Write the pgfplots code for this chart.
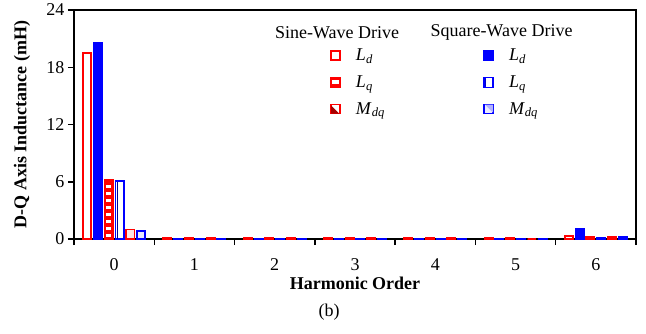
\documentclass[border=0pt]{standalone}
\usepackage{pgfplots}
\pgfplotsset{compat=1.18}
\usepackage{pgfplotstable}
\usepackage{fontspec}
\setmainfont{Liberation Serif}

% harmonic order, sine-wave drive (s) and square-wave drive (q) inductances in mH
\pgfplotstableread{
h  sLd   qLd   sLq   qLq   sMdq  qMdq
0  19.5  20.6  6.2   6.1   1.0   0.87
1  0.10  0.06  0.10  0.06  0.08  0.06
2  0.10  0.06  0.10  0.06  0.08  0.06
3  0.10  0.06  0.10  0.06  0.08  0.06
4  0.10  0.06  0.10  0.06  0.08  0.06
5  0.10  0.06  0.08  0.06  0.00  0.06
6  0.35  1.05  0.18  0.12  0.18  0.20
}\tbl

\tikzset{
  sLdstyle/.style={draw=red, line width=1.8pt, fill=white},
  qLdstyle/.style={draw=blue, line width=1.8pt, fill=blue},
  sLqstyle/.style={draw=red, line width=1.8pt, fill=red},
  qLqstyle/.style={draw=blue, line width=1.8pt, fill=white},
  sMdqstyle/.style={draw=red, line width=1.8pt, fill=red!10},
  qMdqstyle/.style={draw=blue, line width=1.8pt, fill=blue!8},
}

\pgfplotsset{
  commonaxis/.style={
    at={(0,0)}, anchor=south west,
    scale only axis, width=562pt, height=229pt,
    xmin=-0.5, xmax=6.5, ymin=0, ymax=24,
    ybar, bar width=8.2pt,
    clip=false,
    legend cell align=left,
    legend image code/.code={\draw[##1] (0pt,-4.5pt) rectangle (9pt,4.5pt);},
    legend style={draw=none, fill=none, inner sep=0pt, anchor=north west,
      font=\fontsize{18}{21}\selectfont,
      nodes={inner sep=2pt}, row sep=9.5pt, column sep=13pt},
  },
  % stripes laid over the main-harmonic bars
  stripe/.style={ycomb, forget plot, mark=none, restrict x to domain=-0.1:0.1},
}

\newcommand{\Lsub}[2]{\textit{#1}\textsubscript{\textit{#2}}}

\begin{document}
\begin{tikzpicture}[font=\fontsize{18}{21}\selectfont]
\path[use as bounding box] (-74pt,-94pt) rectangle (572pt,239pt);

% sine-wave drive bars, axis frame and labels
\begin{axis}[
  commonaxis,
  ytick={0,6,...,24},
  xtick={0,...,6},
  minor xtick={-0.5,0.5,...,6.5},
  major x tick style={draw=none},
  tick align=outside, xtick pos=bottom, ytick pos=left,
  major tick length=6pt, minor tick length=6pt,
  every tick/.append style={black, line width=1.5pt},
  axis line style={line width=1.5pt},
  /pgf/number format/assume math mode=true,
  tick label style={font=\fontsize{18}{21}\selectfont},
  xticklabel style={yshift=-10pt},
  xlabel={\bfseries Harmonic Order},
  ylabel={\bfseries D-Q Axis Inductance (mH)},
  every axis y label/.style={at={(axis description cs:0,0.5)}, xshift=-52pt,
    rotate=90, anchor=center},
  every axis x label/.style={at={(axis description cs:0.5,0)}, yshift=-44pt,
    anchor=center},
  legend style={at={(0.4555,0.84)}},
]
\addplot[sLdstyle, bar shift=-27pt] table[x=h, y=sLd] {\tbl};
\addlegendentry{\Lsub{L}{d}}
\addplot[sLqstyle, bar shift=-5.4pt,
  legend image code/.code={
    \draw[red, fill=red, line width=1.8pt] (0pt,-4.5pt) rectangle (9pt,4.5pt);
    \fill[white] (2pt,-1.2pt) rectangle (7pt,1.2pt);}]
  table[x=h, y=sLq] {\tbl};
\addlegendentry{\Lsub{L}{q}}
\addplot[sMdqstyle, bar shift=16.2pt,
  legend image code/.code={
    \draw[red, fill=white, line width=1.8pt] (0pt,-4.5pt) rectangle (9pt,4.5pt);
    \fill[red!65!black] (1pt,-3.6pt) -- (6pt,-3.6pt) -- (1pt,1.4pt) -- cycle;}]
  table[x=h, y=sMdq] {\tbl};
\addlegendentry{\Lsub{M}{dq}}

% white dashes inside the sine-wave L_q bar
\addplot[stripe, white, line width=4.6pt, dash pattern=on 3pt off 4pt,
  dash phase=5pt, xshift=-5.4pt, shorten >=2pt] table[x=h, y=sLq] {\tbl};

\node[anchor=center] at (rel axis cs:0.468,0.90) {Sine-Wave Drive};
\node[anchor=center] at (rel axis cs:0.7607,0.90) {Square-Wave Drive};
\node[anchor=center] at (rel axis cs:0.454,-0.32) {(b)};
\end{axis}

% square-wave drive bars
\begin{axis}[
  commonaxis,
  hide axis,
  legend style={at={(0.7278,0.84)}},
]
\addplot[qLdstyle, bar shift=-16.2pt] table[x=h, y=qLd] {\tbl};
\addlegendentry{\Lsub{L}{d}}
\addplot[qLqstyle, bar shift=5.4pt,
  legend image code/.code={
    \draw[blue, fill=blue!80!black, line width=1.8pt] (0pt,-4.5pt) rectangle (9pt,4.5pt);
    \fill[white] (2.3pt,-3.6pt) rectangle (3.8pt,3.6pt);
    \fill[white] (5.4pt,-3.6pt) rectangle (6.9pt,3.6pt);}]
  table[x=h, y=qLq] {\tbl};
\addlegendentry{\Lsub{L}{q}}
\addplot[qMdqstyle, bar shift=27pt,
  legend image code/.code={
    \draw[blue, fill=blue!8, line width=1.8pt] (0pt,-4.5pt) rectangle (9pt,4.5pt);
    \fill[blue!30] (8pt,3.6pt) -- (3pt,3.6pt) -- (8pt,-1.4pt) -- cycle;}]
  table[x=h, y=qMdq] {\tbl};
\addlegendentry{\Lsub{M}{dq}}

% dark stripe inside the square-wave L_q bar
\addplot[stripe, blue!55!black, line width=1.8pt, xshift=3.4pt,
  shorten >=1.2pt] table[x=h, y=qLq] {\tbl};
\end{axis}
\end{tikzpicture}
\end{document}
